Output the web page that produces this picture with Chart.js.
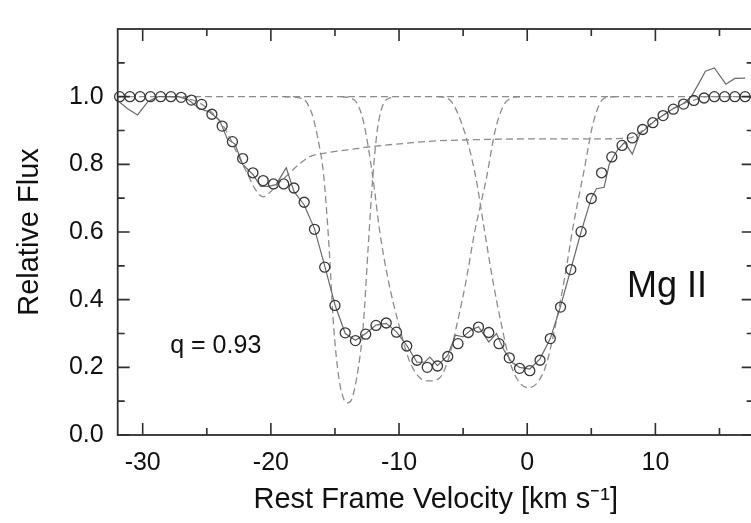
<!DOCTYPE html>
<html>
<head>
<meta charset="utf-8">
<script src="https://cdn.jsdelivr.net/npm/chart.js@4.4.1/dist/chart.umd.min.js"></script>
<style>
  html, body { margin: 0; padding: 0; background: #fff; overflow: hidden; }
  #wrap { width: 760px; height: 523px; position: relative; }
</style>
</head>
<body>
<div id="wrap"><canvas id="fluxChart"></canvas></div>
<script>
// --- model fit (circles), sampled every 0.8 km/s ---
const modelV = [-31.8, -31.0, -30.2, -29.4, -28.6, -27.8, -27.0, -26.2, -25.4, -24.6, -23.8, -23.0, -22.2, -21.4, -20.6, -19.8,
  -19.0, -18.2, -17.4, -16.6, -15.8, -15.0, -14.2, -13.4, -12.6, -11.8, -11.0, -10.2, -9.4, -8.6, -7.8, -7.0,
  -6.2, -5.4, -4.6, -3.8, -3.0, -2.2, -1.4, -0.6, 0.2, 1.0, 1.8, 2.6, 3.4, 4.2, 5.0, 5.8,
  6.6, 7.4, 8.2, 9.0, 9.8, 10.6, 11.4, 12.2, 13.0, 13.8, 14.6, 15.4, 16.2, 17.0];
const modelF = [1.0, 1.0, 1.0, 1.0, 1.0, 1.0, 0.998, 0.99, 0.977, 0.948, 0.913, 0.867, 0.817, 0.775, 0.752, 0.742,
  0.742, 0.73, 0.688, 0.608, 0.496, 0.383, 0.302, 0.279, 0.298, 0.324, 0.331, 0.304, 0.263, 0.221, 0.2, 0.204,
  0.232, 0.27, 0.303, 0.319, 0.303, 0.27, 0.228, 0.197, 0.19, 0.221, 0.285, 0.378, 0.489, 0.601, 0.699, 0.775,
  0.822, 0.856, 0.878, 0.903, 0.923, 0.944, 0.963, 0.978, 0.989, 0.996, 1.0, 1.0, 1.0, 1.0];

// --- observed spectrum (thin solid line) ---
const obsV = [-32.0, -31.2, -30.4, -29.6, -28.8, -28.0, -27.2, -26.4, -25.6, -24.8, -24.0, -23.4, -22.8, -22.2, -21.4, -20.8,
  -20.2, -19.6, -18.8, -18.2, -17.4, -16.6, -15.8, -15.0, -14.2, -13.4, -12.6, -11.8, -11.0, -10.2, -9.4, -8.6,
  -8.0, -7.6, -7.0, -6.2, -5.6, -5.0, -4.4, -3.8, -3.0, -2.4, -1.8, -1.2, -0.6, 0.2, 1.0, 1.8,
  2.6, 3.4, 4.2, 5.0, 5.4, 6.0, 6.4, 7.0, 7.6, 8.2, 8.8, 9.4, 10.0, 10.6, 11.4, 12.2, 12.8, 13.4,
  13.9, 14.6, 15.5, 16.2, 17.0];
const obsF = [0.99, 0.965, 0.946, 0.985, 1.0, 1.0, 1.0, 0.99, 0.965, 0.955, 0.93, 0.875, 0.86, 0.8, 0.77, 0.735,
  0.735, 0.74, 0.79, 0.72, 0.68, 0.61, 0.5, 0.385, 0.3, 0.28, 0.3, 0.325, 0.33, 0.305, 0.265, 0.215,
  0.215, 0.23, 0.205, 0.235, 0.295, 0.29, 0.31, 0.32, 0.275, 0.3, 0.25, 0.215, 0.2, 0.195, 0.225, 0.285,
  0.38, 0.49, 0.6, 0.7, 0.728, 0.732, 0.8, 0.84, 0.865, 0.83, 0.89, 0.91, 0.93, 0.945, 0.965, 0.98, 1.0, 1.04,
  1.075, 1.085, 1.037, 1.054, 1.055];

// --- fitted components (dashed) ---
const contV = [-32, 17.7];
const contF = [1.0, 1.0];

const broadV = [-28.0, -26.5, -25.5, -24.5, -23.5, -22.6, -21.8, -21.2, -20.6, -20.0, -19.4, -18.8, -17.8, -17.0, -15.5, -13.6,
  -11.8, -9.5, -7.7, -4.0, 0.0, 5.0, 7.5, 8.2, 9.0, 9.8, 10.6, 11.4, 12.2, 13.0, 14.0, 17.7];
const broadF = [1.0, 0.995, 0.98, 0.95, 0.9, 0.83, 0.77, 0.725, 0.704, 0.72, 0.745, 0.765, 0.8, 0.822, 0.835, 0.845,
  0.854, 0.862, 0.868, 0.873, 0.875, 0.875, 0.877, 0.88, 0.9, 0.925, 0.945, 0.965, 0.98, 0.99, 1.0, 1.0];

const compAV = [-19.0, -17.6, -16.8, -16.2, -15.9, -15.5, -15.1, -14.7, -14.3, -14.0, -13.7, -13.3, -12.8, -12.4, -12.06, -11.7, -11.2, -10.5];
const compAF = [1.0, 0.995, 0.95, 0.85, 0.775, 0.58, 0.32, 0.17, 0.105, 0.095, 0.105, 0.17, 0.32, 0.56, 0.756, 0.9, 0.98, 1.0];

const compBV = [-14.5, -13.5, -12.8, -12.06, -11.5, -10.8, -10.0, -9.2, -8.4, -7.6, -6.8, -6.1, -5.5, -4.8, -4.1, -3.18, -2.5, -1.9, -1.3, -0.5];
const compBF = [1.0, 0.99, 0.93, 0.766, 0.6, 0.45, 0.324, 0.22, 0.17, 0.16, 0.17, 0.23, 0.324, 0.45, 0.6, 0.76, 0.9, 0.97, 0.995, 1.0];

const compCV = [-7.0, -6.2, -5.2, -4.08, -3.4, -2.7, -2.0, -1.3, -0.6, 0.1, 0.8, 1.5, 2.2, 2.9, 3.6, 4.4, 5.2, 6.0, 7.0];
const compCF = [1.0, 0.995, 0.93, 0.775, 0.62, 0.46, 0.324, 0.21, 0.155, 0.14, 0.155, 0.21, 0.324, 0.46, 0.62, 0.775, 0.93, 0.995, 1.0];

// axis ticks
const X_MAJOR = [-30, -20, -10, 0, 10];
const X_MINOR = [-25, -15, -5, 5, 15];
const Y_MAJOR = [0.0, 0.2, 0.4, 0.6, 0.8, 1.0];
const Y_MINOR = [0.1, 0.3, 0.5, 0.7, 0.9, 1.1];

// text labels (data coords)
const LABEL_Q = { text: 'q = 0.93', v: -24.3, f: 0.263 };
const LABEL_ION = { text: 'Mg II', v: 10.9, f: 0.438 };

const FONT = "'Liberation Sans', Arial, Helvetica, sans-serif";

const pts = (xs, ys) => xs.map((v, i) => ({ x: v, y: ys[i] }));

function dashed(xs, ys) {
    return {
        data: pts(xs, ys),
        borderColor: '#8c8c8c',
        borderWidth: 1.3,
        borderDash: [7, 4],
        pointRadius: 0,
        tension: 0,
        cubicInterpolationMode: 'monotone',
        order: 3
    };
}

const framePlugin = {
    id: 'frame',
    afterDraw(c) {
        const { ctx, chartArea: a, scales: { x, y } } = c;
        ctx.save();
        ctx.strokeStyle = '#2e2e2e';
        ctx.lineWidth = 1.8;
        ctx.strokeRect(a.left, a.top, a.right - a.left, a.bottom - a.top);

        ctx.lineWidth = 1.6;
        ctx.beginPath();
        const xt = (v, len) => {
            const px = x.getPixelForValue(v);
            ctx.moveTo(px, a.bottom); ctx.lineTo(px, a.bottom - len);
            ctx.moveTo(px, a.top); ctx.lineTo(px, a.top + len);
        };
        const yt = (v, len) => {
            const py = y.getPixelForValue(v);
            ctx.moveTo(a.left, py); ctx.lineTo(a.left + len, py);
            ctx.moveTo(a.right, py); ctx.lineTo(a.right - len, py);
        };
        X_MAJOR.forEach(v => xt(v, 12));
        X_MINOR.forEach(v => xt(v, 7));
        Y_MAJOR.forEach(v => yt(v, 12));
        Y_MINOR.forEach(v => yt(v, 7));
        ctx.stroke();

        ctx.fillStyle = '#111';
        ctx.textAlign = 'center';
        ctx.textBaseline = 'middle';
        ctx.font = `25px ${FONT}`;
        ctx.fillText(LABEL_Q.text, x.getPixelForValue(LABEL_Q.v), y.getPixelForValue(LABEL_Q.f));
        ctx.font = `36px ${FONT}`;
        ctx.fillText(LABEL_ION.text, x.getPixelForValue(LABEL_ION.v), y.getPixelForValue(LABEL_ION.f));
        ctx.restore();
    }
};

const ctx = document.getElementById('fluxChart').getContext('2d');
new Chart(ctx, {
    type: 'line',
    data: {
        datasets: [
            {
                data: pts(modelV, modelF),
                showLine: false,
                pointStyle: 'circle',
                pointRadius: 5,
                pointBorderWidth: 1.3,
                pointBorderColor: '#383838',
                pointBackgroundColor: 'rgba(0,0,0,0)',
                clip: 8,
                order: 1
            },
            {
                data: pts(obsV, obsF),
                borderColor: '#6a6a6a',
                borderWidth: 1.2,
                pointRadius: 0,
                tension: 0,
                order: 2
            },
            dashed(contV, contF),
            dashed(broadV, broadF),
            dashed(compAV, compAF),
            dashed(compBV, compBF),
            dashed(compCV, compCF)
        ]
    },
    options: {
        responsive: true,
        maintainAspectRatio: false,
        animation: false,
        layout: { padding: { top: 10, right: 0, bottom: 0, left: 0 } },
        plugins: { legend: { display: false }, tooltip: { enabled: false } },
        scales: {
            x: {
                type: 'linear',
                min: -31.95,
                max: 17.67,
                grid: { display: false, drawTicks: false },
                border: { display: false },
                afterBuildTicks: s => { s.ticks = X_MAJOR.map(v => ({ value: v })); },
                afterFit: s => { s.height = 88; },
                ticks: {
                    padding: 13,
                    color: '#111',
                    font: { family: FONT, size: 25 },
                    callback: v => String(v)
                },
                title: {
                    display: true,
                    text: 'Rest Frame Velocity [km s\u207B\u00B9]',
                    color: '#111',
                    font: { family: FONT, size: 29 },
                    padding: { top: 0, bottom: 6 }
                }
            },
            y: {
                type: 'linear',
                min: 0,
                max: 1.2,
                grid: { display: false, drawTicks: false },
                border: { display: false },
                afterBuildTicks: s => { s.ticks = Y_MAJOR.map(v => ({ value: v })); },
                afterFit: s => { s.width = 117.7; },
                ticks: {
                    padding: 14,
                    color: '#111',
                    font: { family: FONT, size: 25 },
                    callback: v => Number(v).toFixed(1)
                },
                title: {
                    display: true,
                    text: 'Relative Flux',
                    color: '#111',
                    font: { family: FONT, size: 29 },
                    padding: { top: 13, bottom: 0 }
                }
            }
        }
    },
    plugins: [framePlugin]
});
</script>
</body>
</html>
